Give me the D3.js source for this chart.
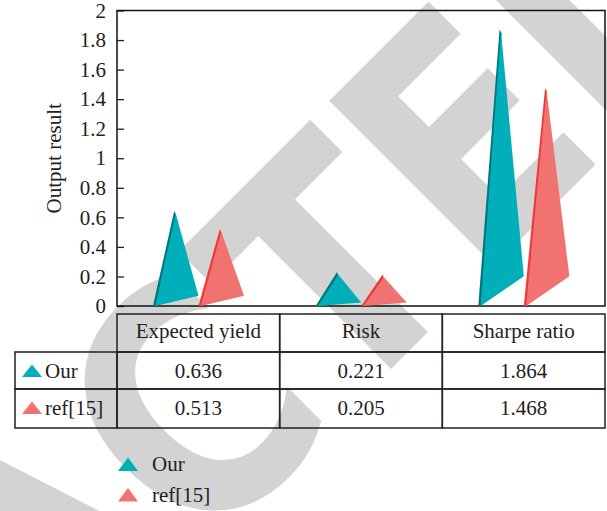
<!DOCTYPE html>
<html>
<head>
<meta charset="utf-8">
<script src="https://cdn.jsdelivr.net/npm/d3@7"></script>
<style>
  html, body { margin: 0; padding: 0; background: #ffffff; }
  svg { display: block; }
  .lbl { font-family: "Liberation Serif", "Times New Roman", serif; font-size: 21px; fill: #231f20; }
</style>
</head>
<body>
<svg id="chart" width="607" height="511"></svg>
<script>
// ---- data ----
const categories = ["Expected yield", "Risk", "Sharpe ratio"];
const seriesNames = ["Our", "ref[15]"];
const ourValues = [0.636, 0.221, 1.864];
const refValues = [0.513, 0.205, 1.468];
const yTickValues = [0, 0.2, 0.4, 0.6, 0.8, 1, 1.2, 1.4, 1.6, 1.8, 2];
const yTickLabels = ["0", "0.2", "0.4", "0.6", "0.8", "1", "1.2", "1.4", "1.6", "1.8", "2"];
const yTitle = "Output result";
const watermarkText = "RETRACTED";

// ---- styling ----
const faceColors = { "Our": "#00afb9", "ref[15]": "#f07271" };
const edgeColors = { "Our": "#00787f", "ref[15]": "#ee3a36" };
const ink = "#231f20";

const svg = d3.select("#chart");

// diagonal watermark behind everything
const wmSize = 320, wmScaleX = 0.865;
const wm = svg.append("g").attr("transform", "rotate(-45)");
const wmText = wm.append("text")
  .attr("font-family", "'DejaVu Sans', sans-serif")
  .attr("font-weight", "bold")
  .attr("font-size", wmSize)
  .attr("fill", "#d3d3d3")
  .attr("transform", `scale(${wmScaleX},1)`)
  .attr("x", 0)
  .attr("y", 537.4)
  .text(watermarkText);
{
  // place so the seventh letter (the second "T") is centred on its slot
  const n = wmText.node();
  const before = n.getSubStringLength(0, 6);
  const tW = n.getSubStringLength(6, 1);
  const targetU = 41.7 / wmScaleX;
  wmText.attr("x", targetU - before - tW / 2);
}

// ---- plot geometry ----
const plotL = 117, plotR = 605, plotT = 10.5, plotB = 306;

const x0 = d3.scaleBand().domain(categories).range([plotL, plotR]).padding(0);
const x1 = d3.scaleBand().domain(seriesNames)
  .range([x0.bandwidth() * 0.221, x0.bandwidth() * 0.781]).padding(0);
const y = d3.scaleLinear().domain([0, 2]).range([plotB, plotT]);

// axis
const yAxis = d3.axisLeft(y)
  .tickValues(yTickValues)
  .tickFormat((d, i) => yTickLabels[i])
  .tickSizeInner(-7)
  .tickSizeOuter(0)
  .tickPadding(11);
const ag = svg.append("g").attr("transform", `translate(${plotL},0)`).call(yAxis);
ag.select(".domain").remove();
ag.selectAll(".tick line").attr("stroke", ink).attr("stroke-width", 1.3);
ag.selectAll(".tick text")
  .attr("class", "lbl")
  .attr("font-family", null).attr("font-size", null)
  .style("fill", ink);

// frame
svg.append("rect")
  .attr("x", plotL).attr("y", plotT)
  .attr("width", plotR - plotL).attr("height", plotB - plotT)
  .attr("fill", "none").attr("stroke", "#111").attr("stroke-width", 1.5);

// y title
svg.append("text").attr("class", "lbl")
  .attr("transform", `translate(61,${(plotT + plotB) / 2}) rotate(-90)`)
  .attr("text-anchor", "middle")
  .text(yTitle);

// ---- triangular "bars" ----
const rows = [];
categories.forEach((c, ci) => {
  const catMax = Math.max(ourValues[ci], refValues[ci]);
  rows.push({ cat: c, s: "Our", v: ourValues[ci], catMax });
  rows.push({ cat: c, s: "ref[15]", v: refValues[ci], catMax });
});

const bars = svg.append("g").selectAll("g.bar").data(rows).join("g").attr("class", "bar");
bars.each(function (d) {
  const g = d3.select(this);
  const w = x1.bandwidth();
  const xL = x0(d.cat) + x1(d.s);
  const xA = xL + 0.48 * w;
  const xR = xL + w;
  const y0 = y(0);
  const yA = y(d.v);
  const rise = 0.108 * (y0 - y(d.catMax));
  // thin shaded side face along the left edge
  g.append("path")
    .attr("d", d3.line()([[xL, y0], [xA - 0.6, yA - 1], [xA + 1.4, yA + 3], [xL + 3, y0]]) + "Z")
    .attr("fill", edgeColors[d.s]);
  // front face
  g.append("path")
    .attr("d", d3.line()([[xL + 2.4, y0], [xA + 0.9, yA + 1.5], [xR, y0 - rise]]) + "Z")
    .attr("fill", faceColors[d.s]);
});

// ---- data table ----
const tblTop = 314, hdrB = 352, row1B = 389, row2B = 428, tblL = 15;
const tg = svg.append("g");
const lineAttrs = sel => sel.attr("stroke", ink).attr("stroke-width", 1.5).attr("fill", "none");

// header cells
categories.forEach(c => {
  tg.append("rect").attr("x", x0(c)).attr("y", tblTop)
    .attr("width", x0.bandwidth()).attr("height", hdrB - tblTop).call(lineAttrs);
  tg.append("text").attr("class", "lbl").attr("text-anchor", "middle")
    .attr("x", x0(c) + x0.bandwidth() / 2).attr("y", tblTop + 23.5).text(c);
});
// body rows
const bodyRows = [
  { name: seriesNames[0], vals: ourValues, top: hdrB, bot: row1B },
  { name: seriesNames[1], vals: refValues, top: row1B, bot: row2B }
];
const triIcon = (cx, base, w, h) => d3.line()([[cx - w / 2, base], [cx, base - h], [cx + w / 2, base]]) + "Z";
bodyRows.forEach(r => {
  tg.append("rect").attr("x", tblL).attr("y", r.top)
    .attr("width", plotL - tblL).attr("height", r.bot - r.top).call(lineAttrs);
  tg.append("path").attr("d", triIcon(32, r.top + 25, 20, 12.5)).attr("fill", faceColors[r.name]);
  tg.append("text").attr("class", "lbl").attr("x", 45).attr("y", r.top + 25.5).text(r.name);
  categories.forEach((c, ci) => {
    tg.append("rect").attr("x", x0(c)).attr("y", r.top)
      .attr("width", x0.bandwidth()).attr("height", r.bot - r.top).call(lineAttrs);
    tg.append("text").attr("class", "lbl").attr("text-anchor", "middle")
      .attr("x", x0(c) + x0.bandwidth() / 2).attr("y", r.top + 25.5)
      .text(d3.format(".3f")(r.vals[ci]));
  });
});

// ---- legend ----
const lg = svg.append("g");
seriesNames.forEach((s, i) => {
  const base = 471 + i * 30.5;
  lg.append("path").attr("d", triIcon(128, base, 20, 13.5)).attr("fill", faceColors[s]);
  lg.append("text").attr("class", "lbl").attr("x", 152).attr("y", base).text(s);
});
</script>
</body>
</html>
